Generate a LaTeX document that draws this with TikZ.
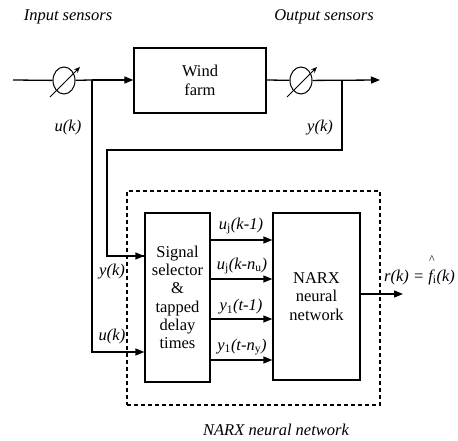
\documentclass[tikz,border=0pt]{standalone}
\usepackage{fontspec}
\setmainfont{Liberation Serif}
\usetikzlibrary{arrows.meta,shapes.geometric}
\begin{document}
\begin{tikzpicture}[x=1pt,y=-1pt,
  every node/.style={font=\fontsize{16.5}{18.3}\selectfont},
  blk/.style={draw, line width=1.3pt, inner sep=0pt, align=center},
  sensor/.style={draw, ellipse, line width=1pt, minimum width=22pt, minimum height=27pt, inner sep=0pt},
  wire/.style={line width=1.3pt},
  arr/.style={wire, -{Triangle[length=9pt,width=7pt]}},
  lbl/.style={font=\fontsize{16.5}{18.3}\selectfont\itshape, inner sep=0pt}]
\useasboundingbox (0,0) rectangle (458,441);
% top labels
\node[lbl] (tin) at (68,17) {Input sensors};
\node[lbl] (tout) at (324,17) {Output sensors};
% main chain
\coordinate (start) at (13,80);
\node[sensor] (s1) at (64,80.5) {};
\draw[line width=0.9pt, -{Stealth[length=6pt,width=5pt]}] (50,97) -- (80,67);
\node[blk, minimum width=132pt, minimum height=65pt] (wind) at (200,80.5) {Wind\\farm};
\node[sensor] (s2) at (301,80.5) {};
\draw[line width=0.9pt, -{Stealth[length=6pt,width=5pt]}] (287,97) -- (317,67);
\coordinate (j1) at (92,80);
\coordinate (j2) at (342,80);
\coordinate (outend) at (380,80);
\draw[wire] (start) -- (s1);
\draw[wire] (s1) -- (j1);
\draw[arr] (j1) -- (wind.west |- j1);
\draw[wire] (wind.east |- j1) -- (s2);
\draw[arr] (s2) -- (outend);
% dotted box
\node[draw, line width=2pt, dash pattern=on 4pt off 3pt, minimum width=253pt, minimum height=214pt, inner sep=0pt] (dbox) at (253.5,298) {};
\node[font=\fontsize{16.5}{18.3}\selectfont\itshape] (cap) at (276,430) {NARX neural network};
% signal selector and NARX
\node[blk, minimum width=65pt, minimum height=169pt] (sel) at (177.5,297.5) {Signal\\selector\\\&\\tapped\\delay\\times};
\node[blk, minimum width=87pt, minimum height=167pt] (narx) at (316.5,296.5) {NARX\\neural\\network};
% feedback wires
\coordinate (ycorner) at (342,150);
\draw[wire] (j2) -- (ycorner) -- (107,150) |- (sel.west |- 0,256) coordinate (yin);
\draw[arr] (107,256) -- (yin);
\draw[arr] (j1) |- (sel.west |- 0,352);
\node[lbl] (uk1) at (68,128) {u(k)};
\node[lbl] (yk1) at (320,128) {y(k)};
\node[lbl] (yk2) at (112,272) {y(k)};
\node[lbl] (uk2) at (112,337) {u(k)};
% internal arrows
\foreach \yy/\nm in {240/a1,279/a2,319/a3,360/a4}{
  \draw[arr] (sel.east |- 0,\yy) -- (narx.west |- 0,\yy);
}
\node[lbl] (l1) at (241,226) {u\textsubscript{\upshape j}(k-1)};
\node[lbl] (l2) at (242,266) {u\textsubscript{\upshape j}(k-n\textsubscript{\upshape u})};
\node[lbl] (l3) at (241,307) {y\textsubscript{\upshape 1}(t-1)};
\node[lbl] (l4) at (242,347) {y\textsubscript{\upshape 1}(t-n\textsubscript{\upshape y})};
% output
\coordinate (rend) at (403,294);
\draw[arr] (narx.east |- rend) -- (rend);
\node[lbl, anchor=west] (rk) at (384,277) {r(k) = f\textsubscript{\upshape i}(k)};
\node[font=\fontsize{12}{12}\selectfont, inner sep=0pt] (hat) at (432,260) {\textasciicircum};
\end{tikzpicture}
\end{document}
